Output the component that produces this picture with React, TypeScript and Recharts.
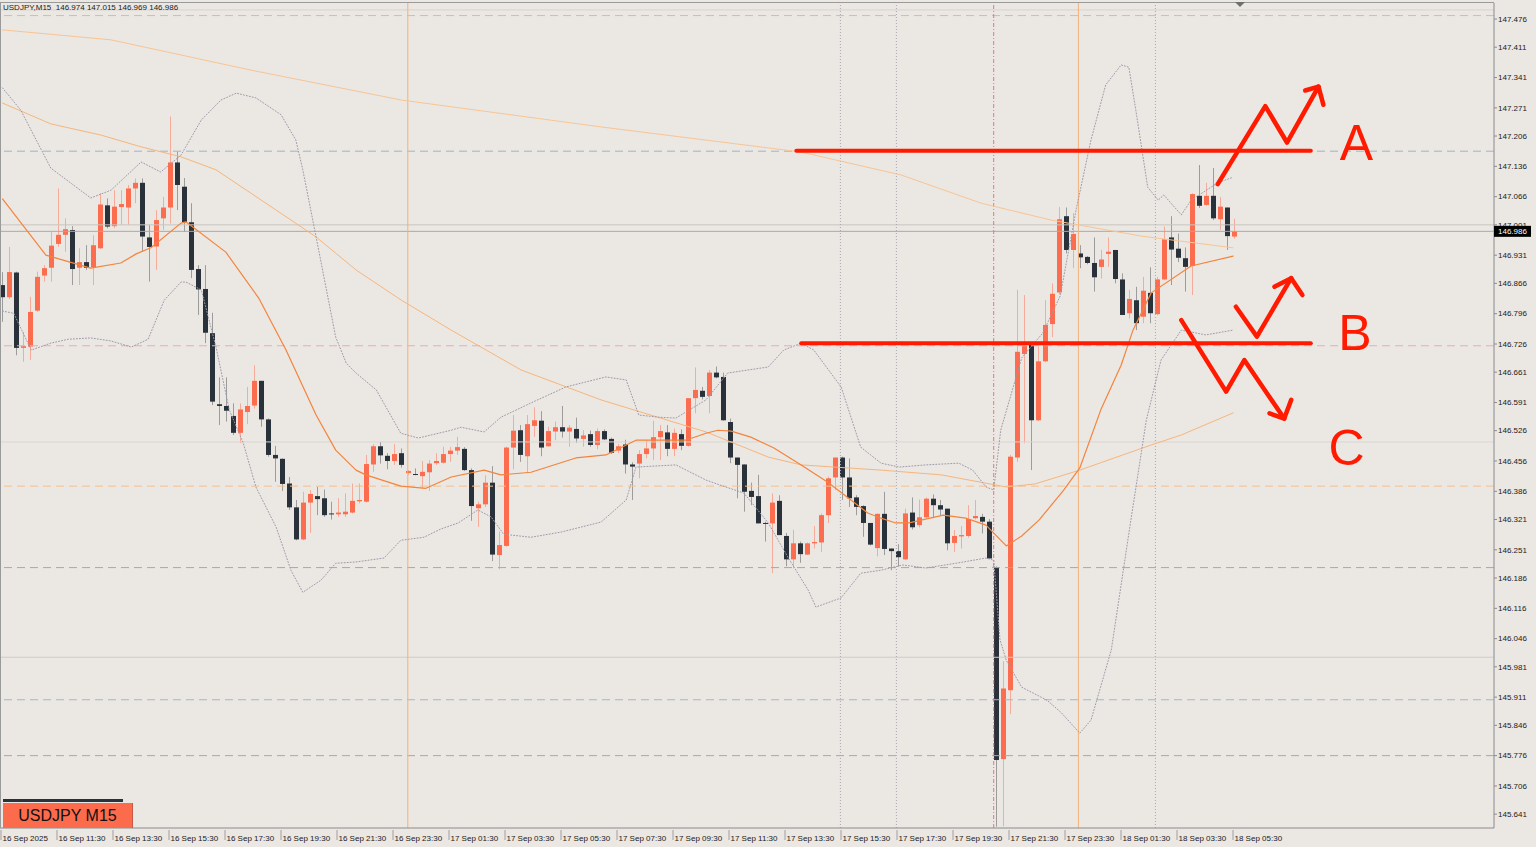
import React from 'react';
import { ComposedChart, Bar, Line, XAxis, YAxis, ReferenceLine, ReferenceDot } from 'recharts';

// USDJPY M15 candles, 16 Sep 09:30 -> 18 Sep 05:30
const opens = [
  146.862, 146.834, 146.891, 146.717, 146.720, 146.803, 146.884, 146.902, 146.957, 146.978,
  146.989, 146.902, 146.915, 146.903, 146.947, 147.046, 146.998, 147.042, 147.041, 147.085,
  147.098, 146.972, 146.951, 147.016, 147.041, 147.145, 147.089, 147.007, 146.899, 146.853,
  146.751, 146.587, 146.583, 146.560, 146.521, 146.569, 146.584, 146.641, 146.552, 146.470,
  146.461, 146.404, 146.349, 146.275, 146.360, 146.375, 146.370, 146.335, 146.333, 146.333,
  146.337, 146.363, 146.362, 146.448, 146.490, 146.468, 146.456, 146.474, 146.428, 146.426,
  146.421, 146.430, 146.451, 146.452, 146.472, 146.480, 146.484, 146.435, 146.347, 146.356,
  146.406, 146.239, 146.260, 146.487, 146.527, 146.467, 146.537, 146.549, 146.490, 146.524,
  146.534, 146.524, 146.530, 146.507, 146.518, 146.493, 146.525, 146.507, 146.480, 146.494,
  146.448, 146.450, 146.472, 146.485, 146.511, 146.522, 146.484, 146.518, 146.491, 146.601,
  146.618, 146.606, 146.660, 146.650, 146.546, 146.464, 146.448, 146.387, 146.375, 146.313,
  146.312, 146.364, 146.283, 146.229, 146.266, 146.240, 146.266, 146.268, 146.331, 146.418,
  146.464, 146.418, 146.372, 146.352, 146.313, 146.255, 146.334, 146.254, 146.248, 146.229,
  146.337, 146.308, 146.326, 146.369, 146.354, 146.346, 146.267, 146.282, 146.283, 146.324,
  146.327, 146.316, 146.211, 145.768, 145.927, 146.464, 146.703, 146.724, 146.550, 146.686,
  146.772, 146.845, 147.021, 146.943, 146.935, 146.927, 146.913, 146.904, 146.934, 146.943,
  146.875, 146.797, 146.827, 146.789, 146.844, 146.795, 146.875, 146.972, 146.946, 146.924,
  146.906, 147.068, 147.047, 147.068, 147.014, 147.041, 146.974,
];
const highs = [
  146.892, 146.950, 146.893, 146.754, 146.835, 146.893, 146.908, 146.985, 147.085, 147.016,
  146.998, 146.947, 146.954, 146.977, 147.074, 147.062, 147.081, 147.081, 147.093, 147.108,
  147.108, 147.001, 147.035, 147.066, 147.251, 147.170, 147.109, 147.051, 146.908, 146.908,
  146.798, 146.649, 146.649, 146.589, 146.589, 146.627, 146.677, 146.641, 146.554, 146.491,
  146.462, 146.419, 146.366, 146.385, 146.389, 146.396, 146.390, 146.362, 146.370, 146.381,
  146.404, 146.404, 146.470, 146.495, 146.500, 146.474, 146.495, 146.485, 146.435, 146.439,
  146.456, 146.458, 146.474, 146.489, 146.489, 146.512, 146.488, 146.439, 146.362, 146.423,
  146.444, 146.293, 146.489, 146.562, 146.539, 146.562, 146.580, 146.571, 146.535, 146.547,
  146.583, 146.539, 146.556, 146.527, 146.526, 146.531, 146.529, 146.510, 146.495, 146.505,
  146.453, 146.481, 146.504, 146.549, 146.539, 146.539, 146.531, 146.529, 146.601, 146.672,
  146.627, 146.666, 146.674, 146.660, 146.554, 146.464, 146.448, 146.406, 146.424, 146.316,
  146.381, 146.377, 146.290, 146.297, 146.270, 146.268, 146.306, 146.335, 146.420, 146.464,
  146.466, 146.462, 146.377, 146.354, 146.313, 146.335, 146.385, 146.254, 146.264, 146.346,
  146.372, 146.367, 146.372, 146.379, 146.366, 146.346, 146.297, 146.306, 146.354, 146.366,
  146.334, 146.322, 146.213, 145.994, 146.470, 146.851, 146.839, 146.726, 146.720, 146.827,
  146.866, 147.042, 147.041, 147.028, 146.954, 146.929, 146.972, 146.943, 146.972, 146.943,
  146.889, 146.851, 146.858, 146.881, 146.903, 146.881, 146.997, 147.021, 146.981, 146.949,
  147.074, 147.139, 147.098, 147.132, 147.065, 147.041, 147.015,
];
const lows = [
  146.777, 146.830, 146.700, 146.685, 146.689, 146.800, 146.870, 146.870, 146.950, 146.939,
  146.862, 146.862, 146.897, 146.862, 146.945, 146.993, 146.993, 147.001, 147.001, 147.051,
  146.939, 146.870, 146.897, 146.989, 147.004, 147.035, 146.985, 146.878, 146.793, 146.728,
  146.585, 146.539, 146.547, 146.516, 146.497, 146.541, 146.577, 146.535, 146.466, 146.408,
  146.387, 146.343, 146.273, 146.273, 146.290, 146.331, 146.327, 146.321, 146.327, 146.327,
  146.335, 146.358, 146.360, 146.431, 146.450, 146.437, 146.447, 146.441, 146.424, 146.423,
  146.393, 146.387, 146.447, 146.450, 146.454, 146.470, 146.433, 146.318, 146.304, 146.350,
  146.225, 146.206, 146.258, 146.437, 146.454, 146.428, 146.512, 146.467, 146.489, 146.504,
  146.510, 146.489, 146.498, 146.489, 146.489, 146.483, 146.504, 146.472, 146.474, 146.427,
  146.366, 146.416, 146.462, 146.458, 146.458, 146.467, 146.467, 146.481, 146.489, 146.566,
  146.598, 146.566, 146.647, 146.549, 146.451, 146.370, 146.339, 146.354, 146.312, 146.270,
  146.197, 146.285, 146.213, 146.208, 146.221, 146.239, 146.254, 146.246, 146.313, 146.389,
  146.366, 146.350, 146.331, 146.281, 146.261, 146.236, 146.239, 146.204, 146.212, 146.227,
  146.298, 146.303, 146.324, 146.324, 146.329, 146.250, 146.246, 146.254, 146.279, 146.321,
  146.289, 146.231, 145.612, 145.613, 145.872, 146.454, 146.497, 146.435, 146.548, 146.684,
  146.742, 146.840, 146.935, 146.901, 146.901, 146.910, 146.847, 146.877, 146.904, 146.866,
  146.793, 146.785, 146.758, 146.774, 146.774, 146.792, 146.873, 146.862, 146.915, 146.847,
  146.839, 147.040, 147.045, 147.012, 146.989, 146.943, 146.969,
];
const closes = [
  146.834, 146.892, 146.717, 146.721, 146.800, 146.881, 146.901, 146.953, 146.978, 146.991,
  146.899, 146.915, 146.902, 146.954, 147.048, 146.997, 147.043, 147.049, 147.085, 147.098,
  146.974, 146.950, 147.012, 147.041, 147.145, 147.093, 147.007, 146.897, 146.852, 146.752,
  146.593, 146.583, 146.572, 146.521, 146.575, 146.583, 146.641, 146.552, 146.470, 146.462,
  146.403, 146.349, 146.275, 146.360, 146.380, 146.368, 146.331, 146.333, 146.337, 146.339,
  146.364, 146.366, 146.449, 146.490, 146.469, 146.456, 146.472, 146.447, 146.433, 146.424,
  146.431, 146.450, 146.456, 146.472, 146.480, 146.488, 146.435, 146.352, 146.356, 146.406,
  146.240, 146.262, 146.487, 146.526, 146.470, 146.541, 146.550, 146.487, 146.525, 146.534,
  146.524, 146.533, 146.508, 146.515, 146.493, 146.525, 146.506, 146.475, 146.490, 146.448,
  146.443, 146.472, 146.485, 146.511, 146.525, 146.484, 146.521, 146.491, 146.601, 146.620,
  146.604, 146.660, 146.649, 146.550, 146.464, 146.447, 146.385, 146.373, 146.312, 146.312,
  146.360, 146.285, 146.229, 146.266, 146.241, 146.266, 146.269, 146.331, 146.416, 146.464,
  146.418, 146.370, 146.350, 146.313, 146.263, 146.334, 146.253, 146.248, 146.234, 146.335,
  146.303, 146.326, 146.369, 146.354, 146.344, 146.266, 146.283, 146.285, 146.322, 146.329,
  146.316, 146.231, 145.766, 145.931, 146.466, 146.708, 146.722, 146.550, 146.686, 146.770,
  146.842, 147.014, 146.943, 146.980, 146.926, 146.913, 146.880, 146.921, 146.939, 146.876,
  146.793, 146.830, 146.774, 146.849, 146.797, 146.875, 146.968, 146.944, 146.925, 146.904,
  147.072, 147.045, 147.068, 147.016, 147.043, 146.975, 146.986,
];

const timeTicks = [0, 8, 16, 24, 32, 40, 48, 56, 64, 72, 80, 88, 96, 104, 112, 120, 128, 136, 144, 152, 160, 168, 176];
const timeLabels = [
  '16 Sep 2025', '16 Sep 11:30', '16 Sep 13:30', '16 Sep 15:30', '16 Sep 17:30', '16 Sep 19:30',
  '16 Sep 21:30', '16 Sep 23:30', '17 Sep 01:30', '17 Sep 03:30', '17 Sep 05:30', '17 Sep 07:30',
  '17 Sep 09:30', '17 Sep 11:30', '17 Sep 13:30', '17 Sep 15:30', '17 Sep 17:30', '17 Sep 19:30',
  '17 Sep 21:30', '17 Sep 23:30', '18 Sep 01:30', '18 Sep 03:30', '18 Sep 05:30',
];
const priceTicks = [
  147.476, 147.411, 147.341, 147.271, 147.206, 147.136, 147.066, 147.001, 146.931, 146.866,
  146.796, 146.726, 146.661, 146.591, 146.526, 146.456, 146.386, 146.321, 146.251, 146.186,
  146.116, 146.046, 145.981, 145.911, 145.846, 145.776, 145.706, 145.641,
];
const lastPrice = 146.986;

// indicator lines: [candle index, price]
const fastMa = [
  [0, 147.061], [6.2, 146.931], [12.6, 146.901], [16.9, 146.913], [19.1, 146.934], [21.2, 146.948],
  [25.5, 147.005], [26.2, 147.008], [31.9, 146.938], [36.6, 146.832], [40.5, 146.712], [44.8, 146.562],
  [47.6, 146.481], [50.5, 146.435], [51.9, 146.424], [56.9, 146.398], [60.5, 146.393], [64.1, 146.419],
  [68.8, 146.435], [71.2, 146.424], [75.5, 146.43], [81.9, 146.463], [86.2, 146.47], [90.5, 146.504],
  [97.6, 146.504], [100.5, 146.52], [102.2, 146.527], [104.1, 146.525], [106.9, 146.511], [110.2, 146.486],
  [114.1, 146.447], [117.9, 146.407], [121.2, 146.366], [123.6, 146.336], [125.5, 146.324], [127.6, 146.313],
  [129.5, 146.313], [134.4, 146.331], [137.6, 146.324], [140.5, 146.308], [143.4, 146.26], [145.6, 146.283],
  [148.1, 146.32], [151.6, 146.389], [153.9, 146.44], [156.9, 146.574], [159.8, 146.677], [161.5, 146.758],
  [164.1, 146.844], [169.8, 146.906], [175.8, 146.929],
];
const slowMaTop = [
  [0, 147.451], [15.5, 147.428], [35.5, 147.358], [57, 147.289], [85.5, 147.227], [114.1, 147.169],
  [128.4, 147.116], [139.8, 147.051], [149.8, 147.012], [162.7, 146.975], [175.8, 146.948],
];
const slowMaMid = [
  [0, 147.282], [6.9, 147.234], [14.1, 147.208], [19.8, 147.181], [25.5, 147.158], [30.5, 147.128],
  [39.1, 147.035], [44.8, 146.973], [50.5, 146.897], [57, 146.827], [64.1, 146.758], [74.1, 146.666],
  [85.5, 146.597], [92.6, 146.562], [100.5, 146.523], [109.4, 146.465], [114.1, 146.447], [125.5, 146.435],
  [134.1, 146.424], [143.4, 146.396], [147.5, 146.403], [153.9, 146.435], [164.1, 146.493], [168.4, 146.516],
  [175.8, 146.567],
];
const bandUpper = [
  [0, 147.317], [2.6, 147.266], [6.9, 147.132], [12.6, 147.063], [15.5, 147.081], [19.8, 147.146],
  [22.6, 147.123], [25.5, 147.162], [28.4, 147.243], [31.2, 147.289], [33.4, 147.305], [36.2, 147.294],
  [39.8, 147.255], [41.9, 147.197], [42.9, 147.128], [44.8, 146.973], [47.6, 146.742], [49.1, 146.682],
  [50.5, 146.659], [53.4, 146.62], [56.9, 146.52], [59.4, 146.509], [64.1, 146.527], [65.5, 146.534],
  [68.8, 146.523], [71.2, 146.557], [75.5, 146.59], [80.5, 146.627], [86.2, 146.65], [89.1, 146.643],
  [90.9, 146.562], [93.8, 146.557], [96.2, 146.555], [100.5, 146.597], [103.6, 146.659], [109.4, 146.673],
  [111.6, 146.712], [114.1, 146.728], [115.9, 146.712], [119.8, 146.627], [122.6, 146.488], [125.5, 146.451],
  [128.1, 146.442], [131.9, 146.447], [136.6, 146.451], [138.6, 146.435], [140.5, 146.396], [141.6, 146.389],
  [142.6, 146.527], [145.6, 146.694], [148.6, 146.751], [151.1, 146.837], [153.4, 147.038], [155.5, 147.197],
  [157.6, 147.324], [159.8, 147.37], [160.9, 147.365], [161.9, 147.266], [163.6, 147.088], [165.1, 147.058],
  [165.9, 147.07], [168.4, 147.024], [169.8, 147.058], [173.6, 147.098], [175.8, 147.111],
];
const bandLower = [
  [0, 146.802], [1.6, 146.797], [4.1, 146.712], [6.9, 146.728], [9.4, 146.737], [12.6, 146.74],
  [15.5, 146.733], [18.4, 146.719], [20.8, 146.737], [23.1, 146.827], [25.5, 146.869], [26.2, 146.869],
  [28.4, 146.851], [30.5, 146.719], [32.4, 146.574], [34.4, 146.497], [36.2, 146.396], [39.1, 146.303],
  [41.2, 146.204], [42.9, 146.153], [45.5, 146.181], [47.6, 146.22], [50.5, 146.223], [54.5, 146.232],
  [56.9, 146.273], [60.2, 146.28], [62.6, 146.299], [65.1, 146.313], [67.9, 146.343], [69.8, 146.327],
  [71.6, 146.287], [75.5, 146.28], [79.8, 146.292], [85.5, 146.315], [89.1, 146.366], [90.5, 146.442],
  [96.2, 146.447], [100.5, 146.412], [102.6, 146.4], [105.9, 146.382], [109.4, 146.313], [112.2, 146.234],
  [115.1, 146.158], [116.2, 146.119], [119.8, 146.14], [122.6, 146.197], [125.5, 146.204], [128.6, 146.216],
  [131.9, 146.209], [136.2, 146.22], [140.5, 146.232], [141.6, 146.227], [142.5, 146.043], [143.4, 145.996],
  [145.6, 145.934], [149.2, 145.904], [151.2, 145.876], [153.9, 145.828], [155.5, 145.858], [158.4, 146.02],
  [161.2, 146.32], [163.4, 146.55], [165.5, 146.689], [168.4, 146.758], [171.9, 146.747], [175.8, 146.758],
];

// horizontal levels on the chart
const dashedLevels = [147.484, 147.171, 146.722, 146.398, 146.21, 145.905, 145.776];
const solidLevels = [147.497, 147.001, 146.5, 146.003];
const sessionBreaks = [57.9, 153.7];
const dottedMarks = [119.7, 127.7, 164.7];
const eventMark = 141.6;

// hand-drawn scenario annotations
const levelA = [[113.4, 147.172], [186.9, 147.172]];
const levelB = [[114.1, 146.728], [186.9, 146.728]];
const pathA = [[173.6, 147.095], [180.4, 147.275], [183.5, 147.191], [188.0, 147.32]];
const headA = [[186.1, 147.311], [188.0, 147.32], [188.7, 147.278]];
const pathB = [[176.2, 146.812], [179.2, 146.743], [184.1, 146.878]];
const headB = [[181.7, 146.858], [184.1, 146.878], [185.7, 146.839]];
const pathC = [[168.4, 146.781], [174.8, 146.616], [177.4, 146.689], [183.1, 146.554]];
const headC = [[181.0, 146.566], [183.1, 146.554], [184.1, 146.597]];
const letters = [
  { i: 193.4, p: 147.19, t: 'A' },
  { i: 193.2, p: 146.752, t: 'B' },
  { i: 192.0, p: 146.486, t: 'C' },
];

const candles = opens.map((o, i) => ({ i, o, h: highs[i], l: lows[i], c: closes[i] }));
const pts = (arr: number[][]) => arr.map(([i, p]) => ({ i, p }));

const UP = '#fb6d4e';
const DOWN = '#29313b';
const RED = '#ff1a00';
const dashedColors = ['#b9c6bb', '#9fb4c9', '#e9a9c1', '#f4c08c', '#a9a9a9', '#a5b7c9', '#a9a9a9'];
const solidColors = ['#d6d2ce', '#c9c5c1', '#d9d5d1', '#d0ccc8'];

const Candle = (props: any) => {
  const { x, y, width, height, payload } = props;
  const { o, h, l, c } = payload;
  const up = c > o;
  const k = Math.abs(height) / (h - l || 1e-9);
  const top = y + (h - Math.max(o, c)) * k;
  const bot = y + (h - Math.min(o, c)) * k;
  const cx = Math.round(x + width / 2) + 0.5;
  return (
    <g>
      <line x1={cx} x2={cx} y1={y} y2={y + Math.abs(height)} stroke={up ? '#f6ab9a' : '#9c9c9c'} strokeWidth={1} />
      <rect x={cx - 2.5} y={top} width={5} height={Math.max(bot - top, 1)} fill={up ? UP : DOWN} />
    </g>
  );
};

const TimeTick = (props: any) => {
  const { x, y, payload } = props;
  const k = timeTicks.indexOf(payload.value);
  return (
    <g>
      <line x1={x - 1.5} x2={x - 1.5} y1={y} y2={y + 10} stroke="#a0a0a0" />
      <text x={x} y={y + 11} fontSize={8} fill="#1a1a1a" fontFamily="Liberation Sans, Arial, sans-serif">
        {timeLabels[k]}
      </text>
    </g>
  );
};

const PriceTick = (props: any) => {
  const { x, y, payload } = props;
  const isLast = payload.value === lastPrice;
  return (
    <g>
      {isLast && <rect x={x - 4} y={y - 5.5} width={37} height={11} fill="#000" />}
      <text x={x} y={y} dy="0.35em" fontSize={8} fill={isLast ? '#fff' : '#1a1a1a'} fontFamily="Liberation Sans, Arial, sans-serif">
        {payload.value.toFixed(3)}
      </text>
    </g>
  );
};

const Letter = (props: any) => {
  const { cx, cy, label } = props;
  return (
    <text x={cx} y={cy} textAnchor="middle" dominantBaseline="central" fontSize={50} fill={RED} fontFamily="Liberation Sans, Arial, sans-serif">
      {label}
    </text>
  );
};

const line = (key: string, data: number[][], stroke: string, width: number, dash?: string) => (
  <Line
    key={key}
    data={pts(data)}
    dataKey="p"
    type="linear"
    stroke={stroke}
    strokeWidth={width}
    strokeDasharray={dash}
    strokeLinecap="round"
    strokeLinejoin="round"
    dot={false}
    activeDot={false}
    isAnimationActive={false}
  />
);

export default function App() {
  return (
    <div
      style={{
        position: 'absolute',
        left: 0,
        top: 0,
        width: 1536,
        height: 847,
        background: '#ebe7e3',
        overflow: 'hidden',
        fontFamily: 'Liberation Sans, Arial, sans-serif',
      }}
    >
      <ComposedChart width={1536} height={847} data={candles} margin={{ top: 3, right: 0, bottom: 0, left: 0 }}>
        <XAxis
          type="number"
          dataKey="i"
          domain={[-0.357, 213.07]}
          allowDataOverflow
          ticks={timeTicks}
          interval={0}
          tick={<TimeTick />}
          tickLine={false}
          tickSize={0}
          height={19}
          axisLine={{ stroke: '#8c8c8c' }}
        />
        <YAxis
          orientation="right"
          type="number"
          domain={[145.609, 147.513]}
          allowDataOverflow
          ticks={[...priceTicks, lastPrice]}
          interval={0}
          tick={<PriceTick />}
          tickSize={3}
          tickMargin={1}
          tickLine={{ stroke: '#8c8c8c' }}
          width={42}
          axisLine={{ stroke: '#8c8c8c' }}
        />
        {solidLevels.map((p, k) => (
          <ReferenceLine key={`s${k}`} y={p} stroke={solidColors[k]} strokeWidth={1} />
        ))}
        <ReferenceLine y={lastPrice} stroke="#a9a9a9" strokeWidth={1} />
        {dashedLevels.map((p, k) => (
          <ReferenceLine key={`d${k}`} y={p} stroke={dashedColors[k]} strokeDasharray="8 5" strokeWidth={1} />
        ))}
        {sessionBreaks.map((v, k) => (
          <ReferenceLine key={`sb${k}`} x={v} stroke="#f2b27a" strokeWidth={1} />
        ))}
        {dottedMarks.map((v, k) => (
          <ReferenceLine key={`dm${k}`} x={v} stroke="#a8a6b2" strokeDasharray="1 2" strokeWidth={1} />
        ))}
        <ReferenceLine x={eventMark} stroke="#f07080" strokeDasharray="4 2 1 2" strokeWidth={1} />

        <Bar dataKey={(d: any) => [d.l, d.h]} barSize={5} shape={<Candle />} isAnimationActive={false} />

        {line('slowTop', slowMaTop, '#f8c594', 1)}
        {line('slowMid', slowMaMid, '#f6b67c', 1)}
        {line('bbU', bandUpper, '#9e99ab', 1, '1 2')}
        {line('bbL', bandLower, '#9e99ab', 1, '1 2')}
        {line('fast', fastMa, '#f4843d', 1.2)}

        {line('lvlA', levelA, RED, 4)}
        {line('lvlB', levelB, RED, 4)}
        {line('pA', pathA, RED, 4.5)}
        {line('hA', headA, RED, 4.5)}
        {line('pB', pathB, RED, 4.5)}
        {line('hB', headB, RED, 4.5)}
        {line('pC', pathC, RED, 4.5)}
        {line('hC', headC, RED, 4.5)}
        {letters.map((m) => (
          <ReferenceDot key={m.t} x={m.i} y={m.p} r={0} shape={(s: any) => <Letter {...s} label={m.t} />} />
        ))}
      </ComposedChart>

      <div
        style={{
          position: 'absolute',
          left: 0,
          top: 2,
          width: 1494,
          height: 826,
          borderTop: '1px solid #9a9a9a',
          borderLeft: '1px solid #9a9a9a',
          boxSizing: 'border-box',
          pointerEvents: 'none',
        }}
      />
      <div
        style={{
          position: 'absolute',
          left: 1235,
          top: 2,
          width: 0,
          height: 0,
          borderLeft: '5px solid transparent',
          borderRight: '5px solid transparent',
          borderTop: '5px solid #6e6e6e',
        }}
      />
      <div style={{ position: 'absolute', left: 3, top: 3, fontSize: 8, color: '#1a1a1a', whiteSpace: 'pre' }}>
        {'USDJPY,M15  146.974 147.015 146.969 146.986'}
      </div>
      <div style={{ position: 'absolute', left: 3, top: 799, width: 120, height: 3, background: '#29313b' }} />
      <div
        style={{
          position: 'absolute',
          left: 3,
          top: 803,
          width: 130,
          height: 25,
          background: '#fb6b4c',
          borderRight: '1px solid #c65a42',
          boxSizing: 'border-box',
          fontSize: 16,
          lineHeight: '25px',
          textAlign: 'center',
          color: '#111',
        }}
      >
        USDJPY M15
      </div>
    </div>
  );
}
